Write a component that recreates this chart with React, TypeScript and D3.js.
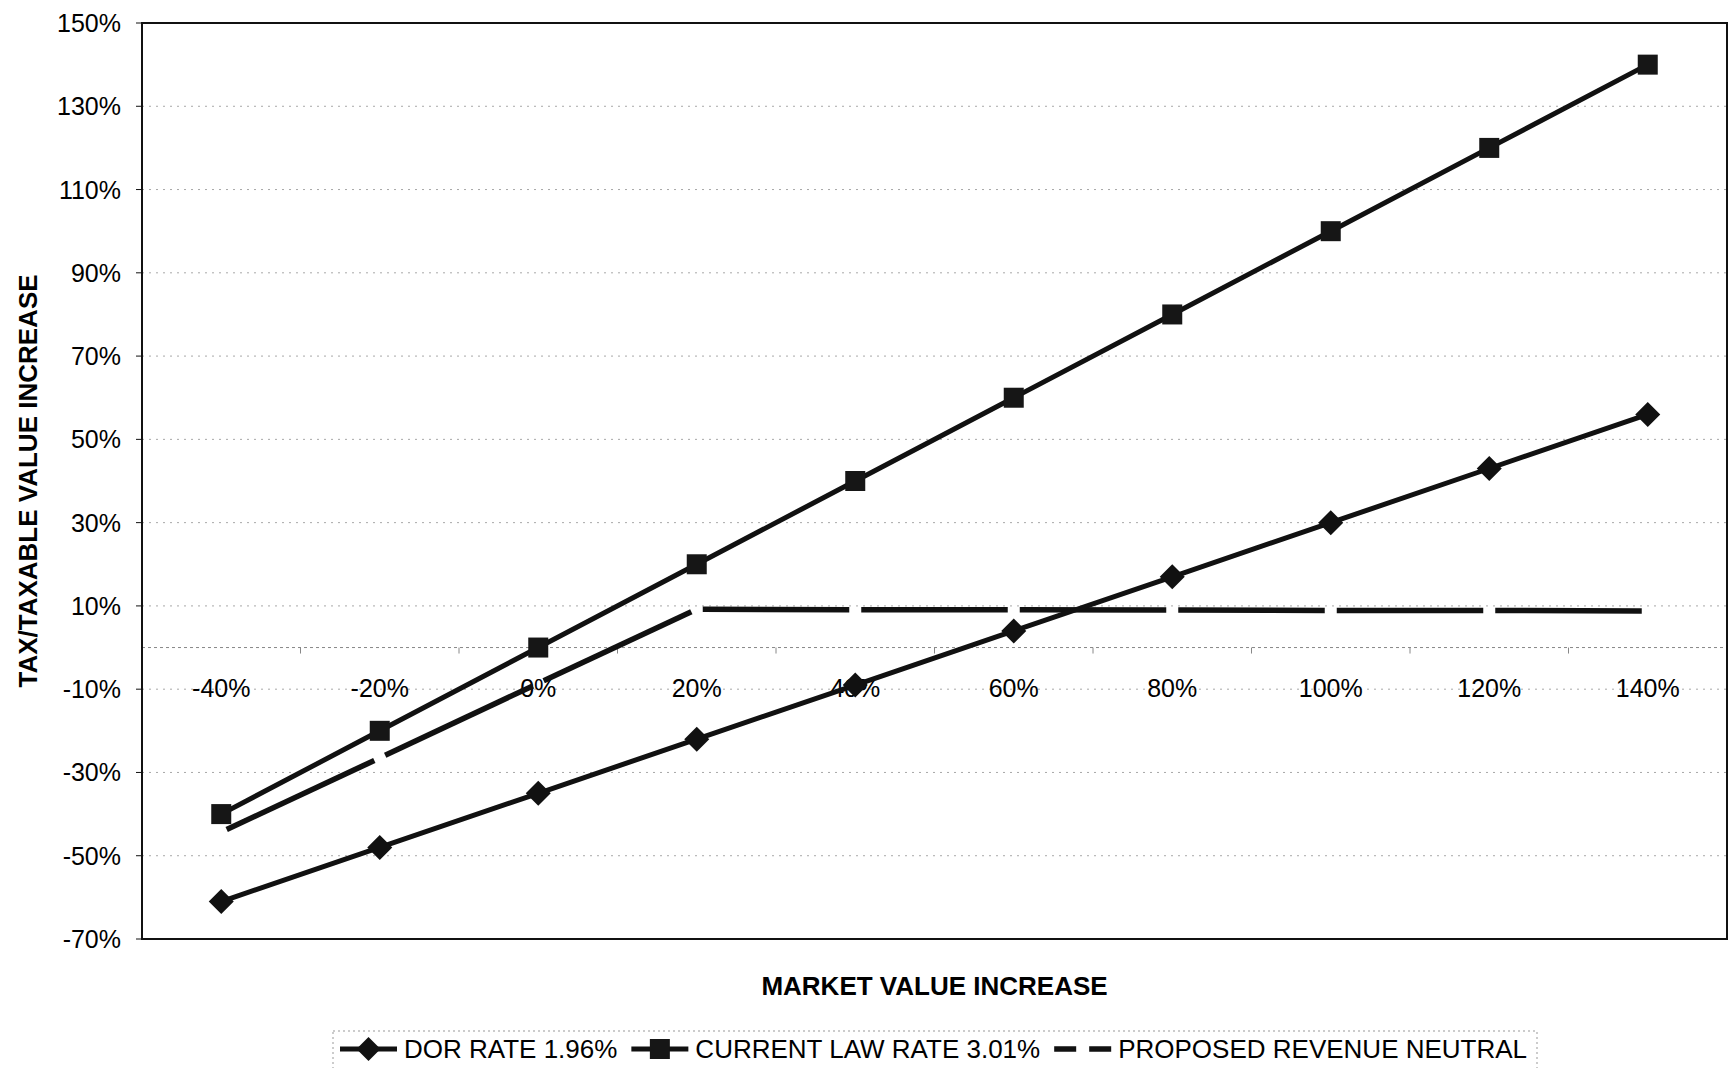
import React, { useEffect, useRef } from "react";
import * as d3 from "d3";

const categories = ["-40%", "-20%", "0%", "20%", "40%", "60%", "80%", "100%", "120%", "140%"];
const dorRate = [-61.0, -48.0, -35.0, -22.0, -9.0, 4.0, 17.0, 30.0, 43.0, 56.0];
const currentLaw = [-40, -20, 0, 20, 40, 60, 80, 100, 120, 140];
const revenueNeutral = [-44.3, -26.5, -8.6, 9.2, 9.1, 9.1, 9.0, 8.9, 8.9, 8.8];
const yTicks = [-70, -50, -30, -10, 10, 30, 50, 70, 90, 110, 130, 150];
const seriesNames = ["DOR RATE 1.96%", "CURRENT LAW RATE 3.01%", "PROPOSED REVENUE NEUTRAL"];

const W = 1730;
const H = 1068;
const plot = { left: 142, right: 1727, top: 23, bottom: 939 };
const FONT = '"Liberation Sans", Arial, Helvetica, sans-serif';

const diamondPath = (r: number) => `M0,${-r}L${r},0L0,${r}L${-r},0Z`;

export default function App() {
  const ref = useRef<SVGSVGElement>(null);

  useEffect(() => {
    const svg = d3.select(ref.current);
    svg.selectAll("*").remove();

    const x = d3.scalePoint<string>().domain(categories).range([plot.left, plot.right]).padding(0.5);
    const y = d3.scaleLinear().domain([-70, 150]).range([plot.bottom, plot.top]);

    // gridlines
    svg
      .append("g")
      .selectAll("line")
      .data(yTicks.slice(1, -1))
      .join("line")
      .attr("x1", plot.left)
      .attr("x2", plot.right)
      .attr("y1", (d) => y(d))
      .attr("y2", (d) => y(d))
      .attr("stroke", "#a8a8a8")
      .attr("stroke-width", 1)
      .attr("stroke-dasharray", "2,5");

    // category axis sits at 0%
    const zero = y(0);
    const axisG = svg.append("g");
    axisG
      .append("line")
      .attr("x1", plot.left)
      .attr("x2", plot.right)
      .attr("y1", zero)
      .attr("y2", zero)
      .attr("stroke", "#888")
      .attr("stroke-width", 1)
      .attr("stroke-dasharray", "3,3");
    const bounds = categories.map((c) => x(c)! - x.step() / 2).concat([x(categories[categories.length - 1])! + x.step() / 2]);
    axisG
      .selectAll("line.tick")
      .data(bounds)
      .join("line")
      .attr("class", "tick")
      .attr("x1", (d) => d)
      .attr("x2", (d) => d)
      .attr("y1", zero)
      .attr("y2", zero + 6)
      .attr("stroke", "#888")
      .attr("stroke-width", 1);
    axisG
      .selectAll("text")
      .data(categories)
      .join("text")
      .attr("x", (d) => x(d)!)
      .attr("y", zero + 40)
      .attr("text-anchor", "middle")
      .attr("dominant-baseline", "central")
      .attr("font-family", FONT)
      .attr("font-size", 25)
      .text((d) => d);

    // plot frame
    svg
      .append("rect")
      .attr("x", plot.left)
      .attr("y", plot.top)
      .attr("width", plot.right - plot.left)
      .attr("height", plot.bottom - plot.top)
      .attr("fill", "none")
      .attr("stroke", "#111")
      .attr("stroke-width", 2);

    // value axis
    const yAxis = svg.append("g");
    yAxis
      .selectAll("line")
      .data(yTicks)
      .join("line")
      .attr("x1", plot.left - 6)
      .attr("x2", plot.left)
      .attr("y1", (d) => y(d))
      .attr("y2", (d) => y(d))
      .attr("stroke", "#111")
      .attr("stroke-width", 1);
    yAxis
      .selectAll("text")
      .data(yTicks)
      .join("text")
      .attr("x", 121)
      .attr("y", (d) => y(d))
      .attr("text-anchor", "end")
      .attr("dominant-baseline", "central")
      .attr("font-family", FONT)
      .attr("font-size", 25)
      .text((d) => `${d}%`);

    // axis titles
    svg
      .append("text")
      .attr("transform", `translate(28,${(plot.top + plot.bottom) / 2}) rotate(-90)`)
      .attr("text-anchor", "middle")
      .attr("dominant-baseline", "central")
      .attr("font-family", FONT)
      .attr("font-size", 26)
      .attr("font-weight", "bold")
      .text("TAX/TAXABLE VALUE INCREASE");
    svg
      .append("text")
      .attr("x", (plot.left + plot.right) / 2)
      .attr("y", 986)
      .attr("text-anchor", "middle")
      .attr("dominant-baseline", "central")
      .attr("font-family", FONT)
      .attr("font-size", 26)
      .attr("font-weight", "bold")
      .text("MARKET VALUE INCREASE");

    const line = d3
      .line<number>()
      .x((d, i) => x(categories[i])!)
      .y((d) => y(d));

    // proposed revenue neutral: dashed, each segment broken near the points
    const gap = 6;
    const segs = d3.pairs(revenueNeutral.map((v, i) => [x(categories[i])!, y(v)] as [number, number]));
    svg
      .append("g")
      .selectAll("line")
      .data(segs)
      .join("line")
      .each(function ([a, b]) {
        const len = Math.hypot(b[0] - a[0], b[1] - a[1]);
        const ux = (b[0] - a[0]) / len;
        const uy = (b[1] - a[1]) / len;
        d3.select(this)
          .attr("x1", a[0] + ux * gap)
          .attr("y1", a[1] + uy * gap)
          .attr("x2", b[0] - ux * gap)
          .attr("y2", b[1] - uy * gap);
      })
      .attr("stroke", "#111")
      .attr("stroke-width", 5.5);

    // current law
    svg
      .append("path")
      .datum(currentLaw)
      .attr("d", line)
      .attr("fill", "none")
      .attr("stroke", "#111")
      .attr("stroke-width", 5)
      .attr("stroke-linejoin", "round");
    svg
      .append("g")
      .selectAll("rect")
      .data(currentLaw)
      .join("rect")
      .attr("x", (d, i) => x(categories[i])! - 10)
      .attr("y", (d) => y(d) - 10)
      .attr("width", 20)
      .attr("height", 20)
      .attr("fill", "#161616");

    // DOR rate
    svg
      .append("path")
      .datum(dorRate)
      .attr("d", line)
      .attr("fill", "none")
      .attr("stroke", "#111")
      .attr("stroke-width", 5)
      .attr("stroke-linejoin", "round");
    svg
      .append("g")
      .selectAll("path")
      .data(dorRate)
      .join("path")
      .attr("d", diamondPath(12.5))
      .attr("transform", (d, i) => `translate(${x(categories[i])},${y(d)})`)
      .attr("fill", "#111");

    // legend
    const legY = 1049;
    const leg = svg.append("g");
    leg
      .append("rect")
      .attr("x", 333)
      .attr("y", 1031)
      .attr("width", 1204)
      .attr("height", 50)
      .attr("fill", "none")
      .attr("stroke", "#999")
      .attr("stroke-dasharray", "2,3");
    let cx = 340;
    seriesNames.forEach((name, i) => {
      const symW = 57;
      const l = leg
        .append("line")
        .attr("x1", cx)
        .attr("x2", cx + symW)
        .attr("y1", legY)
        .attr("y2", legY)
        .attr("stroke", "#111")
        .attr("stroke-width", 5);
      if (i === 0) {
        leg.append("path").attr("d", diamondPath(12)).attr("transform", `translate(${cx + symW / 2},${legY})`).attr("fill", "#111");
      } else if (i === 1) {
        leg.append("rect").attr("x", cx + symW / 2 - 10).attr("y", legY - 10).attr("width", 20).attr("height", 20).attr("fill", "#161616");
      } else {
        l.attr("stroke-dasharray", "22,13").attr("stroke-width", 5.5);
      }
      const t = leg
        .append("text")
        .attr("x", cx + symW + 7)
        .attr("y", legY)
        .attr("dominant-baseline", "central")
        .attr("font-family", FONT)
        .attr("font-size", 26)
        .text(name);
      const tw = (t.node() as SVGTextElement).getComputedTextLength();
      cx = cx + symW + 7 + tw + 14;
    });
  }, []);

  return (
    <svg
      ref={ref}
      width={W}
      height={H}
      style={{ position: "absolute", left: 0, top: 0, background: "#fff" }}
    />
  );
}
